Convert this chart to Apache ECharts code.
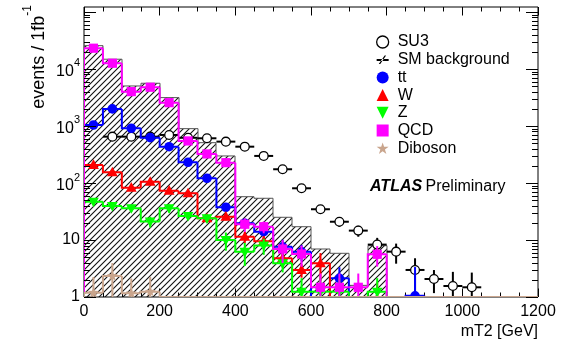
<!DOCTYPE html>
<html>
<head>
<meta charset="utf-8">
<script src="https://cdn.jsdelivr.net/npm/echarts@6/dist/echarts.min.js"></script>
<style>
html,body{margin:0;padding:0;background:#fff;}
#chart{width:567px;height:351px;}
</style>
</head>
<body>
<div id="chart"></div>
<script>
// ---- data (50 GeV bins from 0 to 1200 GeV) ----
const binEdges = [0,50,100,150,200,250,300,350,400,450,500,550,600,650,700,750,800,850,900,950,1000,1050,1100,1150,1200];
const xTickLabels = [0,200,400,600,800,1000,1200];
const su3      = [0,649,649,649,695,620,608,531,433,298,174,80.7,34.6,20.9,14.6,8.3,6.24,2.98,2.07,1.56,1.48,0,0,0];
const su3Err   = [0,15,15,15,15,15,14,13,12,10,8,5.5,4.5,4,3.2,2.6,2.4,1.8,0.9,1.2,1.2,0,0,0];
const smBg     = [25600,14800,5030,5610,3140,897,509,298,57.5,53.9,25,17.1,6.95,5.84,1.6,7.94,0,0,0,0,0,0,0,0];
const ttbar    = [1040,1990,912,623,433,231,121,37.5,19.6,14,7.6,6.2,0,2.13,0,0,0,1.05,0,0,0,0,0,0];
const ttbarErr = [20,30,18,14,12,9,7,4,3,3,2.5,2,0,1.2,0,0,0,2.3,0,0,0,0,0,0];
const wjets    = [207,154,82.7,105,73.3,66,24,25.6,11.4,9.5,4.78,2.98,3.9,0,0,0.9,0,0,0,0,0,0,0,0];
const wjetsErr = [8,7,5,6,5,5,3.5,3.5,2.6,2.2,1.5,0.8,2,0,0,0.9,0,0,0,0,0,0,0,0];
const zjets    = [47,39.5,36,21,36,26.4,24,10,6.2,8,3.9,1.24,1.24,1.24,0,1.24,0,0,0,0,0,0,0,0];
const zjetsErr = [4,4,4.5,4.5,6,4,4,3.5,2.7,2.5,1.2,0.9,0.9,0.9,0,0.9,0,0,0,0,0,0,0,0];
const qcd      = [23100,12600,4000,4780,2560,546,323,227,18.9,17.1,6.95,5.68,1.48,1.48,1.48,5.61,0,0,0,0,0,0,0,0];
const qcdErr   = [300,250,150,160,120,40,30,25,5,4,3,2.3,1.1,1.1,1.1,2.2,0,0,0,0,0,0,0,0];
const diboson    = [1.19,2.34,1.16,1.24,0,0,0,0,0,0,0,0,0,0,0,0,0,0,0,0,0,0,0,0];
const dibosonErr = [1.05,1.6,0.95,1.0,0,0,0,0,0,0,0,0,0,0,0,0,0,0,0,0,0,0,0,0];
const legendNames = ['SU3','SM background','tt','W','Z','QCD','Diboson'];

const YMIN = 1, YMAX = 122000, XMIN = 0, XMAX = 1200;
const FONT = '"Liberation Sans", Arial, Helvetica, sans-serif';
const COL = {su3:'#000000', tt:'#0000ff', w:'#ff0000', z:'#00ff00', qcd:'#ff00ff', dib:'#c9a58d'};

// hatch pattern for SM background
const hatch = document.createElement('canvas');
hatch.width = 6; hatch.height = 6;
(function(){
  const c = hatch.getContext('2d');
  c.strokeStyle = '#111'; c.lineWidth = 1.1;
  c.beginPath();
  c.moveTo(0,6); c.lineTo(6,0);
  c.moveTo(-3,3); c.lineTo(3,-3);
  c.moveTo(3,9); c.lineTo(9,3);
  c.stroke();
})();

function markerShape(kind, cx, cy, color) {
  if (kind === 'ocircle') return {type:'circle', shape:{cx, cy, r:4.4}, style:{fill:'#fff', stroke:'#000', lineWidth:1.3}};
  if (kind === 'circle') return {type:'circle', shape:{cx, cy, r:4.8}, style:{fill:color}};
  if (kind === 'square') return {type:'rect', shape:{x:cx-4.6, y:cy-4.6, width:9.2, height:9.2}, style:{fill:color}};
  if (kind === 'tri') return {type:'polygon', shape:{points:[[cx,cy-5.6],[cx+5.4,cy+4],[cx-5.4,cy+4]]}, style:{fill:color}};
  if (kind === 'itri') return {type:'polygon', shape:{points:[[cx-5.4,cy-4],[cx+5.4,cy-4],[cx,cy+5.6]]}, style:{fill:color}};
  if (kind === 'star') {
    const pts = [];
    for (let k = 0; k < 10; k++) {
      const r = k % 2 ? 2.3 : 5.8;
      const a = -Math.PI/2 + k*Math.PI/5;
      pts.push([cx + r*Math.cos(a), cy + r*Math.sin(a)]);
    }
    return {type:'polygon', shape:{points:pts}, style:{fill:color}};
  }
}

function histSeries(name, values, errs, color, marker, drawLine) {
  return {
    type:'custom', name, clip:true, silent:true,
    itemStyle:{color},
    encode:{x:[0,1], y:2},
    data: values.map((v,i)=>[binEdges[i], binEdges[i+1], v, i>0 ? values[i-1] : 0, errs ? errs[i] : 0]),
    renderItem(params, api) {
      const x0 = api.value(0), x1 = api.value(1), v = api.value(2), vp = api.value(3), e = api.value(4);
      const X0 = api.coord([x0, YMIN])[0], X1 = api.coord([x1, YMIN])[0], XC = (X0 + X1)/2;
      const yOf = val => api.coord([x0, val > 0 ? val : YMIN])[1];
      const yBot = api.coord([x0, YMIN])[1];
      const ch = [];
      if (drawLine) {
        ch.push({type:'polyline', shape:{points:[[X0,yOf(vp)],[X0,yOf(v)],[X1,yOf(v)]]},
                 style:{stroke:color, lineWidth:2, fill:null}});
      }
      if (v > 0) {
        const yv = yOf(v);
        if (!drawLine) {
          ch.push({type:'line', shape:{x1:X0, y1:yv, x2:X1, y2:yv}, style:{stroke:color, lineWidth:2}});
        }
        if (e > 0) {
          const yLo = (v - e) > 0 ? api.coord([x0, v - e])[1] : yBot + 20;
          const yHi = api.coord([x0, v + e])[1];
          ch.push({type:'line', shape:{x1:XC, y1:yHi, x2:XC, y2:yLo}, style:{stroke:color, lineWidth:2}});
        }
        ch.push(markerShape(marker, XC, yv, color));
      }
      return {type:'group', children:ch};
    }
  };
}

const smSeries = {
  type:'custom', name:'SM background', clip:true, silent:true,
  itemStyle:{color:'#000'},
  encode:{x:[0,1], y:2},
  data: smBg.map((v,i)=>[binEdges[i], binEdges[i+1], v, i>0 ? smBg[i-1] : 0]),
  renderItem(params, api) {
    const x0 = api.value(0), x1 = api.value(1), v = api.value(2), vp = api.value(3);
    const X0 = Math.round(api.coord([x0, YMIN])[0]), X1 = Math.round(api.coord([x1, YMIN])[0]);
    const yOf = val => api.coord([x0, val > 0 ? val : YMIN])[1];
    const yBot = yOf(YMIN);
    const ch = [];
    if (v > 0) {
      ch.push({type:'rect', shape:{x:X0, y:yOf(v), width:X1-X0, height:yBot-yOf(v)},
               style:{fill:{image:hatch, repeat:'repeat'}, stroke:null}});
    }
    ch.push({type:'polyline', shape:{points:[[X0,yOf(vp)],[X0,yOf(v)],[X1,yOf(v)]]},
             style:{stroke:'#555', lineWidth:1, fill:null}});
    return {type:'group', children:ch};
  }
};

// y axis log ticks (major at decades, minor at 2..9)
const yTicks = [];
for (let n = 0; n <= 5; n++) for (let m = 1; m <= 9; m++) { const t = m*Math.pow(10,n); if (t <= YMAX) yTicks.push(t); }
const tickSeries = {
  type:'custom', clip:false, silent:true, z:10,
  encode:{x:0, y:1},
  data: yTicks.map(t=>[XMIN, t]),
  renderItem(params, api) {
    const t = api.value(1);
    const p = api.coord([XMIN, t]), q = api.coord([XMAX, t]);
    const lg = Math.log10(t);
    const len = Math.abs(lg - Math.round(lg)) < 1e-9 ? 12 : 6;
    const y = Math.round(p[1]) + 0.5;
    return {type:'group', children:[
      {type:'line', shape:{x1:p[0], y1:y, x2:p[0]+len, y2:y}, style:{stroke:'#000', lineWidth:1}},
      {type:'line', shape:{x1:q[0], y1:y, x2:q[0]-len, y2:y}, style:{stroke:'#000', lineWidth:1}}
    ]};
  }
};

const xAxisCommon = {
  type:'value', min:XMIN, max:XMAX, interval:200,
  axisLine:{show:false}, splitLine:{show:false},
  axisTick:{show:true, inside:true, length:8.5, lineStyle:{color:'#000', width:1}},
  minorTick:{show:true, splitNumber:4, length:4.5, lineStyle:{color:'#000', width:1}},
  minorSplitLine:{show:false}
};

const chart = echarts.init(document.getElementById('chart'), null, {renderer:'canvas'});
chart.setOption({
  animation:false,
  backgroundColor:'#fff',
  textStyle:{fontFamily:FONT},
  grid:{left:84, right:29, top:7, bottom:54, show:true, borderColor:'#000', borderWidth:1, backgroundColor:'transparent'},
  xAxis:[
    Object.assign({}, xAxisCommon, {position:'bottom',
      axisLabel:{show:true, color:'#000', fontSize:16, fontFamily:FONT, margin:7,
        formatter: v => xTickLabels.indexOf(v) >= 0 ? String(v) : ''}}),
    Object.assign({}, xAxisCommon, {position:'top', axisLabel:{show:false}})
  ],
  yAxis:{
    type:'log', logBase:10, min:YMIN, max:YMAX,
    axisLine:{show:false}, axisTick:{show:false}, splitLine:{show:false},
    axisLabel:{
      color:'#000', fontSize:16, fontFamily:FONT, margin:4,
      formatter: v => {
        const lg = Math.log10(v), n = Math.round(lg);
        if (Math.abs(lg - n) > 1e-6 || n > 4) return '';
        if (n === 0) return '1';
        if (n === 1) return '10';
        return '{b|10}{s|' + n + '}';
      },
      rich:{
        b:{fontSize:16, color:'#000', fontFamily:FONT, lineHeight:22, verticalAlign:'bottom'},
        s:{fontSize:11, color:'#000', fontFamily:FONT, lineHeight:22, verticalAlign:'top'}
      }
    }
  },
  legend:{
    orient:'vertical', left:376, top:34, padding:0, itemWidth:12, itemHeight:12, itemGap:1.7,
    selectedMode:false,
    textStyle:{fontSize:16, color:'#000', fontFamily:FONT, lineHeight:16, padding:[0,0,0,4]},
    data:[
      {name:legendNames[0], icon:'circle', itemStyle:{color:'#fff', borderColor:'#000', borderWidth:1.3}},
      {name:legendNames[1], icon:'path://M0,4.2 L14,4.2 L14,6.4 L0,6.4 Z M2.5,10 L4.2,10 L11,0 L9.3,0 Z', itemStyle:{color:'#000'}},
      {name:legendNames[2], icon:'circle', itemStyle:{color:COL.tt}},
      {name:legendNames[3], icon:'triangle', itemStyle:{color:COL.w}},
      {name:legendNames[4], icon:'path://M0,0 L10,0 L5,10 Z', itemStyle:{color:COL.z}},
      {name:legendNames[5], icon:'rect', itemStyle:{color:COL.qcd}},
      {name:legendNames[6], icon:'path://M5,0 L6.2,3.6 L10,3.6 L6.9,5.9 L8.1,9.5 L5,7.3 L1.9,9.5 L3.1,5.9 L0,3.6 L3.8,3.6 Z', itemStyle:{color:COL.dib}}
    ]
  },
  graphic:[
    {type:'text', x:35, y:5, rotation:Math.PI/2, silent:true,
     style:{text:'{a|events / 1fb}{s|-1}', align:'right', verticalAlign:'middle',
       rich:{a:{fontSize:18, fontFamily:FONT, fill:'#000', lineHeight:26, verticalAlign:'bottom'},
             s:{fontSize:12, fontFamily:FONT, fill:'#000', lineHeight:26, verticalAlign:'top'}}}},
    {type:'text', x:538, y:332, silent:true,
     style:{text:'mT2 [GeV]', align:'right', verticalAlign:'middle', fontSize:16, fontFamily:FONT, fill:'#000'}},
    {type:'text', x:370, y:187, silent:true,
     style:{text:'{a|ATLAS} {b|Preliminary}', align:'left', verticalAlign:'middle',
       rich:{a:{fontSize:16, fontWeight:'bold', fontStyle:'italic', fontFamily:FONT, fill:'#000'},
             b:{fontSize:16, fontFamily:FONT, fill:'#000'}}}}
  ],
  series:[
    smSeries,
    histSeries(legendNames[0], su3, su3Err, COL.su3, 'ocircle', false),
    histSeries(legendNames[2], ttbar, ttbarErr, COL.tt, 'circle', true),
    histSeries(legendNames[3], wjets, wjetsErr, COL.w, 'tri', true),
    histSeries(legendNames[4], zjets, zjetsErr, COL.z, 'itri', true),
    histSeries(legendNames[5], qcd, qcdErr, COL.qcd, 'square', true),
    histSeries(legendNames[6], diboson, dibosonErr, COL.dib, 'star', true),
    tickSeries
  ]
});
</script>
</body>
</html>
